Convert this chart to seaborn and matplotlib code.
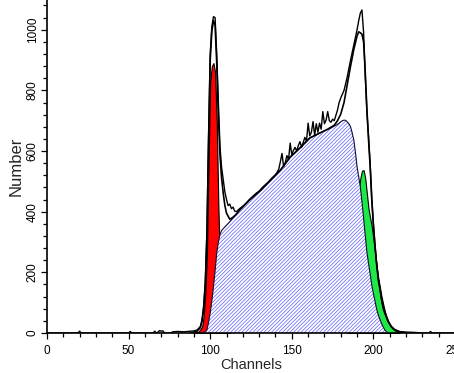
import matplotlib
matplotlib.use("Agg")
import matplotlib.pyplot as plt
from matplotlib.ticker import MultipleLocator
import seaborn as sns

# raw histogram (channel, count)
data_ch = [0, 19, 20, 21, 50, 51, 52, 65, 66, 67, 68, 69, 70, 71, 72, 76, 77, 80, 84, 88, 90, 92,
           94, 95, 96, 97, 98, 99, 100, 101, 102, 103, 104, 105, 106, 107, 108, 109, 110, 111,
           112, 113, 114, 115, 116, 118, 120, 122, 124, 126, 128, 130, 132, 134, 136, 138, 140,
           141, 142, 143, 144, 145, 146, 147, 148, 149, 150, 151, 152, 153, 154, 155, 156, 157,
           158, 159, 160, 161, 162, 163, 164, 165, 166, 167, 168, 169, 170, 171, 172, 173, 174,
           175, 176, 177, 178, 179, 180, 182, 184, 186, 188, 189, 190, 191, 192, 193, 194, 195,
           196, 197, 198, 199, 200, 201, 202, 203, 204, 205, 206, 207, 209, 211, 213, 216, 220,
           225, 230, 234, 235, 236, 250]
data_cnt = [0, 0, 6, 0, 0, 5, 0, 0, 6, 0, 3, 8, 6, 7, 0, 0, 4, 5, 4, 6, 7, 10,
            22, 45, 90, 170, 340, 650, 920, 1010, 1043, 1040, 920, 760, 615, 545, 505, 465, 440, 420,
            425, 410, 415, 402, 400, 410, 418, 428, 440, 450, 460, 468, 480, 490, 500, 512, 522,
            530, 540, 565, 592, 548, 562, 585, 572, 626, 588, 602, 612, 600, 618, 631, 612, 628,
            645, 632, 692, 650, 662, 697, 652, 690, 662, 692, 672, 730, 690, 702, 730, 700, 695,
            705, 700, 718, 735, 760, 775, 800, 845, 900, 950, 975, 1000, 1030, 1055, 1065, 990, 850,
            730, 650, 560, 445, 360, 290, 230, 180, 150, 112, 85, 68, 40, 22, 12, 5, 3,
            2, 0, 0, 5, 0, 0]

# fitted model curve
fit_ch = [88, 92, 94, 95, 96, 97, 98, 99, 100, 101, 102, 103, 104, 105, 106, 107, 108, 109, 110,
          112, 114, 116, 118, 124, 131, 137, 143, 149, 155, 161, 167, 172, 176, 178, 180, 182,
          184, 186, 188, 190, 191, 192, 193, 194, 195, 196, 197, 198, 199, 200, 201, 202, 203,
          204, 205, 206, 207, 209, 211, 213, 216, 220]
fit_cnt = [0, 6, 18, 38, 80, 160, 320, 630, 900, 995, 1030, 1015, 890, 720, 585, 510, 460, 420, 395,
           375, 382, 392, 405, 438, 471, 504, 537, 580, 610, 643, 659, 672, 685, 700, 722, 760,
           820, 880, 935, 980, 993, 990, 985, 960, 860, 740, 640, 550, 440, 355, 285, 225, 175,
           145, 110, 82, 65, 38, 20, 10, 4, 0]

# G1 peak (red)
g1_ch = [90, 93, 95, 96, 97, 98, 99, 100, 101, 102, 103, 104, 105, 106, 107, 108, 110, 112]
g1_cnt = [0, 5, 20, 55, 130, 260, 560, 830, 880, 890, 860, 700, 420, 220, 100, 40, 8, 0]

# S phase (hatched)
s_ch = [95, 97, 98, 99, 100, 101, 102, 103, 104, 105, 106, 107, 109, 112, 118, 124, 131, 137, 143,
        149, 155, 161, 167, 174, 178, 181, 182, 183, 184, 185, 186, 187, 188, 189, 190, 191, 192,
        193, 194, 195, 196, 197, 198, 199, 200, 201, 202, 203, 204, 205, 206, 207, 208, 209]
s_cnt = [0, 4, 10, 35, 66, 105, 153, 205, 263, 300, 325, 338, 350, 367, 405, 438, 471, 504, 537,
         580, 610, 643, 659, 676, 688, 700, 702, 701, 696, 690, 680, 660, 636, 595, 548, 515, 482,
         432, 378, 322, 268, 230, 195, 158, 130, 105, 78, 60, 45, 32, 20, 10, 4, 0]

# G2 peak (green)
g2_ch = [184, 186, 188, 190, 192, 193, 194, 195, 196, 197, 198, 199, 200, 201, 202, 203, 204, 205,
         206, 207, 208, 209, 210, 212, 214, 216]
g2_cnt = [60, 150, 280, 420, 510, 535, 537, 510, 460, 410, 380, 350, 310, 265, 220, 180, 150, 120,
          95, 72, 54, 40, 28, 14, 6, 0]

x_ticks = [0, 50, 100, 150, 200, 250]
y_ticks = [0, 200, 400, 600, 800, 1000]

sns.set_style("ticks")
plt.rcParams["font.family"] = ["Liberation Sans", "DejaVu Sans"]
plt.rcParams["hatch.linewidth"] = 0.5
plt.rcParams["hatch.color"] = "#5c5cff"

fig = plt.figure(figsize=(4.54, 3.73), dpi=100)
ax = fig.add_axes([47 / 454, 40 / 373, 408 / 454, 333 / 373])

ax.fill_between(g1_ch, g1_cnt, facecolor="#ff0000", edgecolor="black", lw=0.8, zorder=1)
ax.fill_between(g2_ch, g2_cnt, facecolor="#1ee846", edgecolor="black", lw=0.8, zorder=1)
ax.fill_between(s_ch, s_cnt, facecolor="white", edgecolor="#5c5cff", hatch="/" * 9, lw=0, zorder=2)
ax.plot(s_ch, s_cnt, color="#101030", lw=0.8, zorder=3)

sns.lineplot(x=fit_ch, y=fit_cnt, color="black", lw=1.2, ax=ax, zorder=4)
sns.lineplot(x=data_ch, y=data_cnt, color="black", lw=1.0, ax=ax, zorder=5)

ax.set_xlim(0, 250)
ax.set_ylim(0, 1098)
ax.set_xticks(x_ticks)
ax.set_yticks(y_ticks)
ax.xaxis.set_minor_locator(MultipleLocator(10))
ax.yaxis.set_minor_locator(MultipleLocator(40))
ax.tick_params(which="major", direction="out", length=4.5, width=0.9, color="black",
               labelsize=8.5, labelcolor="black")
ax.tick_params(which="minor", direction="out", length=3, width=0.9, color="black")
ax.tick_params(axis="x", pad=4)
ax.tick_params(axis="y", labelrotation=90, pad=1.5)
for lbl in ax.get_yticklabels():
    lbl.set_va("center")

ax.set_xlabel("Channels", fontsize=10.5, labelpad=1)
ax.set_ylabel("Number", fontsize=12, labelpad=2)

sns.despine(ax=ax)
for side in ["left", "bottom"]:
    ax.spines[side].set_linewidth(1.2)
    ax.spines[side].set_color("black")

fig.savefig("out.png", dpi=100)
